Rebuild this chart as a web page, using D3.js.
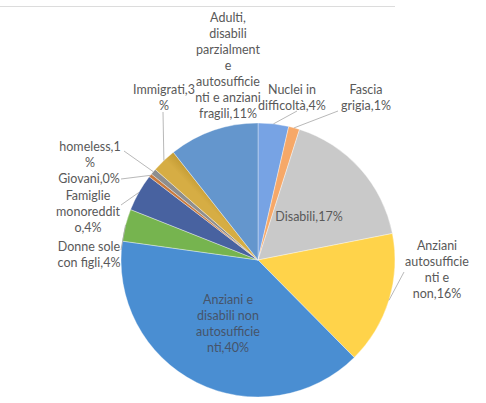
<!DOCTYPE html>
<html>
<head>
<meta charset="utf-8">
<script src="https://cdn.jsdelivr.net/npm/d3@7/dist/d3.min.js"></script>
<style>
  html, body { margin: 0; padding: 0; background: #ffffff; }
  svg { display: block; }
  text { font-family: Lato, "Open Sans", sans-serif; font-size: 12.5px; }
</style>
</head>
<body>
<svg id="chart" width="486" height="403"></svg>
<script>
// Target groups and their share of the total (percent)
const categories = [
  "Nuclei in difficoltà",
  "Fascia grigia",
  "Disabili",
  "Anziani autosufficienti e non",
  "Anziani e disabili non autosufficienti",
  "Donne sole con figli",
  "Famiglie monoreddito",
  "Giovani",
  "homeless",
  "Immigrati",
  "Adulti, disabili parzialmente autosufficienti e anziani fragili"
];
const values = [3.6, 1.3, 17.0, 15.7, 39.6, 3.8, 4.4, 0.4, 0.7, 2.9, 10.6];

// Slice fills: light tone at the start of each slice, dark tone at its end
const lightColors = ["#77a3e4", "#f6a868", "#c9c9c9", "#ffd34a", "#8fbbe6", "#92cc6e",
                     "#6683bc", "#de9454", "#ababab", "#d6ad44", "#6496cd"];
const darkColors  = ["#5d8dd8", "#ef9048", "#a3a3a3", "#ffc000", "#4a8ed2", "#76b44f",
                     "#4862a0", "#c97a3e", "#8e8e8e", "#bb942e", "#3a6ea8"];

// Label layout: characters per wrapped line, label centre, first line y, leader start
const labelLayout = [
  { wrap: [9],              x: 292, y: 90,  lead: [297, 111] },
  { wrap: [6],              x: 366, y: 90,  lead: [338, 111] },
  { wrap: [],               x: 309, y: 217, lead: null },
  { wrap: [7, 12, 5],       x: 437, y: 246, lead: [404, 272] },
  { wrap: [9, 12, 12],      x: 228, y: 300, lead: null, inside: true },
  { wrap: [10],             x: 89,  y: 247, lead: [121, 250] },
  { wrap: [8, 10],          x: 88,  y: 196, lead: [121, 205] },
  { wrap: [],               x: 89,  y: 179, lead: [121, 179] },
  { wrap: [10],             x: 90,  y: 147, lead: [124, 151] },
  { wrap: [11],             x: 164, y: 90,  lead: [163, 112] },
  { wrap: [7, 8, 11, 1, 12, 13], x: 228, y: 18, lead: null }
];

const cx = 258, cy = 260, R = 137;
const lineH = 16;

const svg = d3.select("#chart");

// faint frame line along the top
svg.append("line")
  .attr("x1", 0).attr("x2", 395).attr("y1", 6.5).attr("y2", 6.5)
  .attr("stroke", "#dcdcdc").attr("stroke-width", 1);

const data = categories.map((c, i) => ({ name: c, value: values[i], i }));
const total = d3.sum(values);

const pie = d3.pie().value(d => d.value).sort(null);
const arcs = pie(data);
const arc = d3.arc().innerRadius(0).outerRadius(R);
const rimArc = d3.arc().innerRadius(R).outerRadius(R);

const defs = svg.append("defs");
arcs.forEach((a, k) => {
  const rr = R * 0.6;
  const g = defs.append("linearGradient")
    .attr("id", "grad" + k)
    .attr("gradientUnits", "userSpaceOnUse")
    .attr("x1", cx + rr * Math.sin(a.startAngle)).attr("y1", cy - rr * Math.cos(a.startAngle))
    .attr("x2", cx + rr * Math.sin(a.endAngle)).attr("y2", cy - rr * Math.cos(a.endAngle));
  g.append("stop").attr("offset", "0%").attr("stop-color", lightColors[k]);
  g.append("stop").attr("offset", "100%").attr("stop-color", darkColors[k]);
});

const gPie = svg.append("g").attr("transform", `translate(${cx},${cy})`);
gPie.selectAll("path")
  .data(arcs)
  .join("path")
  .attr("d", arc)
  .attr("fill", (d, k) => `url(#grad${k})`)
  .attr("stroke", "#ffffff")
  .attr("stroke-opacity", 0.6)
  .attr("stroke-width", 0.6);

// leader lines from labels to slice rims
arcs.forEach((a, k) => {
  const L = labelLayout[k];
  if (!L.lead) return;
  const p = rimArc.centroid(a);
  svg.append("line")
    .attr("x1", L.lead[0]).attr("y1", L.lead[1])
    .attr("x2", cx + p[0]).attr("y2", cy + p[1])
    .attr("stroke", "#a6a6a6").attr("stroke-width", 0.8);
});

function wrapLabel(str, lens) {
  const lines = [];
  let i = 0;
  lens.forEach(n => {
    lines.push(str.substr(i, n));
    i += n;
    if (str[i] === " ") i++;
  });
  lines.push(str.substr(i));
  return lines;
}

arcs.forEach((a, k) => {
  const L = labelLayout[k];
  const pct = Math.round(a.data.value / total * 100);
  const lines = wrapLabel(`${a.data.name},${pct}%`, L.wrap);
  const t = svg.append("text")
    .attr("text-anchor", "middle")
    .attr("fill", L.inside ? "#46546a" : "#595959");
  lines.forEach((ln, j) => {
    t.append("tspan")
      .attr("x", L.x)
      .attr("y", L.y + j * lineH)
      .attr("dy", "0.35em")
      .text(ln);
  });
});
</script>
</body>
</html>
